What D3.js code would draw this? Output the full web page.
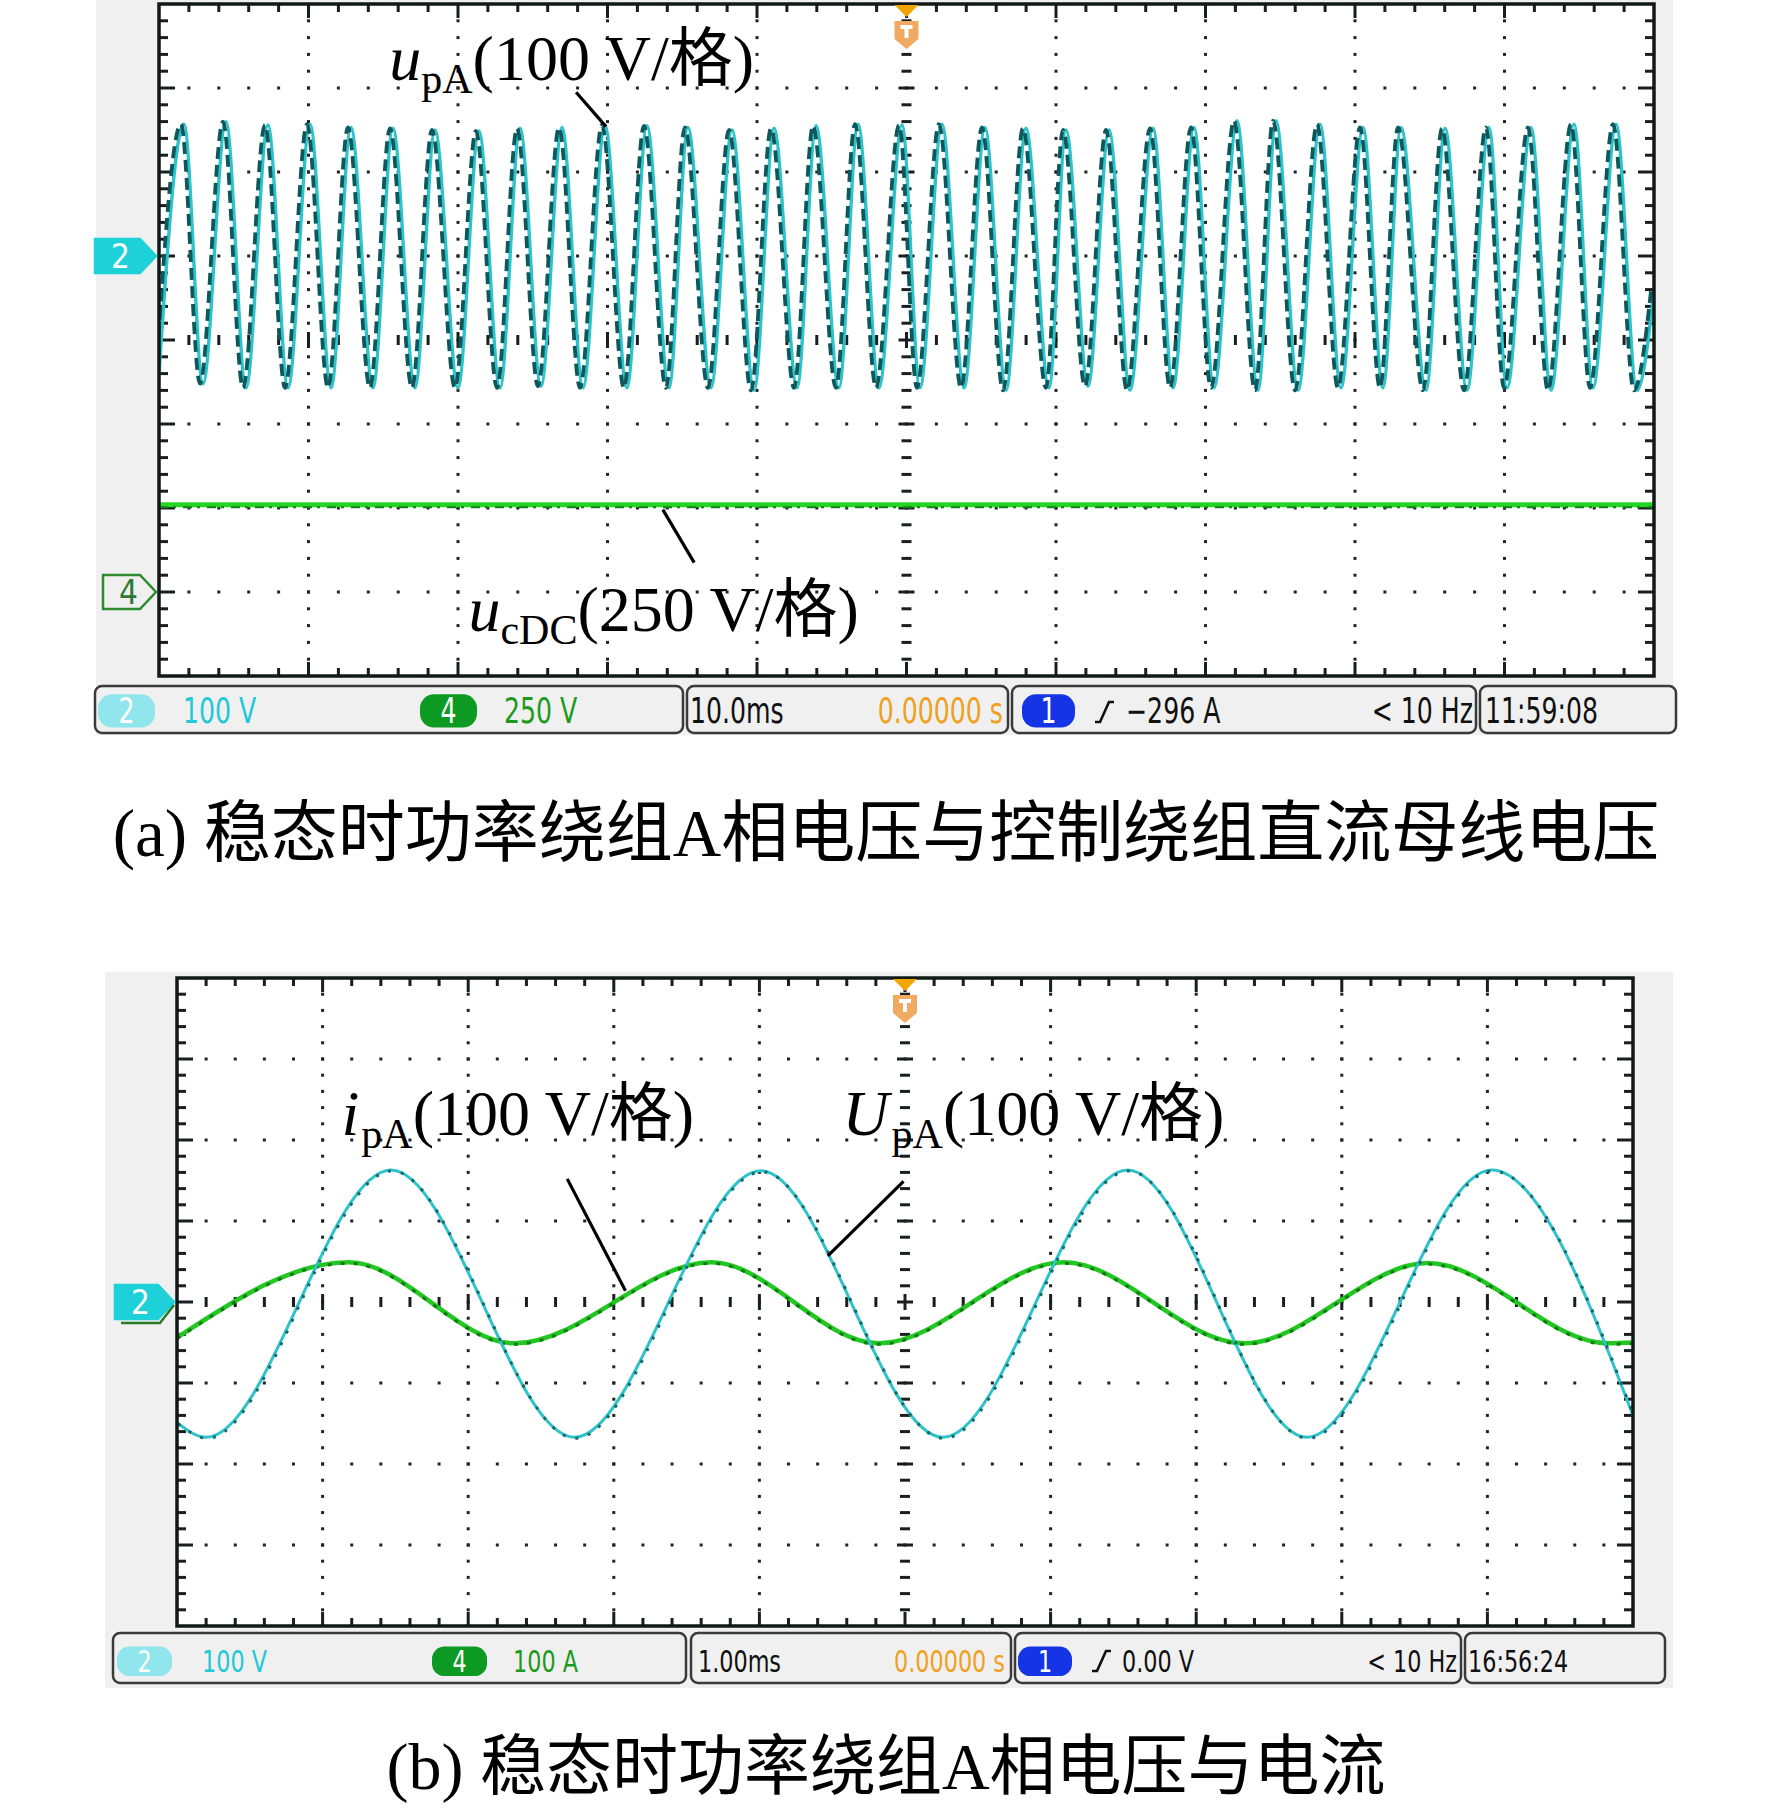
<!DOCTYPE html>
<html lang="zh">
<head>
<meta charset="UTF-8">
<script src="https://cdn.jsdelivr.net/npm/d3@7"></script>
<style>
    body{margin:0;background:#fff;}
    svg text{font-family:"Liberation Serif","Noto Sans CJK SC",serif;}
    svg .bar text{font-family:"DejaVu Sans Condensed","DejaVu Sans",sans-serif;}
</style>
<title>scope</title>
</head>
<body>
<script>
// ---- panel (a): 10 ms/div, ch2 100 V/div, ch4 250 V/div ----
var aPeakT = [1.67,4.48,7.29,10.10,12.84,15.65,18.46,21.40,24.15,26.96,29.83,32.64,35.38,38.33,41.14,43.95,46.76,
              49.70,52.37,55.25,57.99,60.67,63.55,66.49,69.23,72.11,74.72,77.66,80.54,83.08,86.02,88.96,91.77,94.65,97.46];
var aPeakV = [157,160,156,157,153,152,150,149,152,153,156,155,153,150,152,155,157,
              156,157,153,152,150,150,152,153,161,161,157,153,153,152,153,153,157,157];
var aTroughT = [2.94,5.82,8.63,11.51,14.31,17.12,20.00,22.81,25.55,28.36,31.30,34.11,36.92,39.80,42.68,45.48,48.16,
                50.90,53.85,56.66,59.53,62.14,64.95,67.83,70.57,73.51,76.19,79.06,81.87,84.75,87.49,90.17,93.11,95.92,98.86];
var aTroughV = [-152,-157,-157,-157,-157,-157,-157,-157,-155,-157,-157,-157,-157,-160,-157,-157,-157,
                -157,-157,-160,-157,-155,-160,-157,-157,-160,-160,-157,-157,-160,-160,-157,-160,-157,-160];
var aEnds = [-140,-42];
var aDcT = [0,100];
var aDcV = [260,260];

// ---- panel (b): 1 ms/div, ch2 100 V/div, ch4 100 A/div ----
var bUPeakT = [1.47,4.01,6.53,9.03];
var bUPeakV = [163,162,163,163];
var bUTroughT = [0.20,2.73,5.26,7.76];
var bUTroughV = [-167,-167,-167,-167];
var bUEnds = [-149,-140];
var bIPeakT = [1.18,3.67,6.09,8.59];
var bIPeakV = [49,49,49,48];
var bITroughT = [2.32,4.82,7.33,9.83];
var bITroughV = [-51,-51,-51,-51];
var bIEnds = [-44,-50];

function series(pt, pv, tt, tv, ends, tmax){
    var pts = [{t:0, v:ends[0]}, {t:tmax, v:ends[1]}];
    pt.forEach(function(t,i){ pts.push({t:t, v:pv[i]}); });
    tt.forEach(function(t,i){ pts.push({t:t, v:tv[i]}); });
    return pts.sort(function(a,b){ return a.t-b.t; });
}

var svg = d3.select("body").append("svg")
    .attr("width",1772).attr("height",1808);

function scope(cfg){
    var g = svg.append("g");
    var p = cfg.plot;
    g.append("rect").attr("x",cfg.bg[0]).attr("y",cfg.bg[1])
        .attr("width",cfg.bg[2]-cfg.bg[0]).attr("height",cfg.bg[3]-cfg.bg[1])
        .attr("fill","#f0f0f0");
    g.append("rect").attr("x",p.x0).attr("y",p.y0)
        .attr("width",p.x1-p.x0).attr("height",p.y1-p.y0).attr("fill","#fff");

    var gx = d3.scaleLinear().domain([0,10]).range([p.x0,p.x1]);
    var gy = d3.scaleLinear().domain([0,8]).range([p.y0,p.y1]);
    var fx = d3.range(1,50).map(function(d){ return d/5; });
    var fy = d3.range(1,40).map(function(d){ return d/5; });
    var isMaj = function(d){ return Math.abs(d-Math.round(d))<1e-6; };

    // dotted grid
    var dots = [];
    d3.range(1,10).forEach(function(i){ if(i!==5) fy.forEach(function(d){ dots.push([gx(i),gy(d)]); }); });
    d3.range(1,8).forEach(function(j){ if(j!==4) fx.forEach(function(d){ dots.push([gx(d),gy(j)]); }); });
    g.append("g").selectAll("rect").data(dots).enter().append("rect")
        .attr("x",function(d){ return d[0]-1.5; }).attr("y",function(d){ return d[1]-1.5; })
        .attr("width",3).attr("height",3).attr("fill","#222");

    // center cross ticks and border ticks
    var tk = g.append("g").attr("stroke","#1a1e1e").attr("stroke-width",3);
    fy.forEach(function(d){
        var w = isMaj(d)?8:5;
        tk.append("line").attr("x1",gx(5)-w).attr("x2",gx(5)+w).attr("y1",gy(d)).attr("y2",gy(d));
        var L = isMaj(d)?16:9;
        tk.append("line").attr("x1",p.x0).attr("x2",p.x0+L).attr("y1",gy(d)).attr("y2",gy(d));
        tk.append("line").attr("x1",p.x1).attr("x2",p.x1-L).attr("y1",gy(d)).attr("y2",gy(d));
    });
    fx.forEach(function(d){
        var h = isMaj(d)?8:5;
        tk.append("line").attr("y1",gy(4)-h).attr("y2",gy(4)+h).attr("x1",gx(d)).attr("x2",gx(d));
        var L = isMaj(d)?14:8;
        tk.append("line").attr("y1",p.y0).attr("y2",p.y0+L).attr("x1",gx(d)).attr("x2",gx(d));
        tk.append("line").attr("y1",p.y1).attr("y2",p.y1-L).attr("x1",gx(d)).attr("x2",gx(d));
    });

    var x = d3.scaleLinear().domain([0,cfg.tmax]).range([p.x0,p.x1]);
    var chY = function(ground, perDiv){
        return d3.scaleLinear().domain([0,perDiv]).range([gy(ground),gy(ground-1)]);
    };

    var clipId = "clip"+cfg.id;
    g.append("clipPath").attr("id",clipId).append("rect")
        .attr("x",p.x0).attr("y",p.y0).attr("width",p.x1-p.x0).attr("height",p.y1-p.y0);
    var wv = g.append("g").attr("clip-path","url(#"+clipId+")").attr("fill","none");
    cfg.traces.forEach(function(tr){
        var y = chY(tr.ground,tr.perDiv);
        var line = d3.line().x(function(d){ return x(d.t); }).y(function(d){ return y(d.v); })
            .curve(tr.curve||d3.curveMonotoneX);
        wv.append("path").datum(tr.data).attr("d",line)
            .attr("stroke",tr.color).attr("stroke-width",tr.width);
        wv.append("path").datum(tr.data).attr("d",line)
            .attr("transform","translate("+tr.shadeShift[0]+","+tr.shadeShift[1]+")")
            .attr("stroke",tr.shade).attr("stroke-width",tr.shadeWidth)
            .attr("stroke-dasharray",tr.dash);
    });

    g.append("rect").attr("x",p.x0).attr("y",p.y0)
        .attr("width",p.x1-p.x0).attr("height",p.y1-p.y0)
        .attr("fill","none").attr("stroke","#111818").attr("stroke-width",3.5);

    // trigger marker
    var tx = x(cfg.tmax/2), ty = p.y0;
    var tg = g.append("g");
    tg.append("path").attr("d","M"+(tx-12)+","+(ty+1)+"h24l-12,12z").attr("fill","#f2a500");
    tg.append("path").attr("d","M"+(tx-12)+","+(ty+17)+"h24v18l-12,10l-12,-10z").attr("fill","#f0aa62");
    tg.append("rect").attr("x",tx-6).attr("y",ty+21).attr("width",12).attr("height",4).attr("fill","#fff");
    tg.append("rect").attr("x",tx-2).attr("y",ty+21).attr("width",4).attr("height",13).attr("fill","#fff");

    cfg.markers.forEach(function(m){
        var my = gy(m.ground), x1 = p.x0-3, x0 = m.x0;
        var mg = g.append("g");
        mg.append("path")
            .attr("d","M"+x0+","+(my-17)+"H"+(x1-16)+"L"+x1+","+my+"L"+(x1-16)+","+(my+17)+"H"+x0+"Z")
            .attr("fill",m.fill).attr("stroke",m.stroke).attr("stroke-width",2.5);
        mg.append("text").attr("x",x0+16).attr("y",my+12).attr("font-size",33)
            .style("font-family","'DejaVu Sans Condensed',sans-serif")
            .attr("fill",m.textFill).text(m.label);
        if(m.under){
            mg.append("path").attr("d","M"+(x0+6)+","+(my+21)+"H"+(x1-14)+"L"+x1+","+(my+3))
                .attr("fill","none").attr("stroke","#2a7a2a").attr("stroke-width",2.5);
        }
    });

    // status bar
    var b = cfg.bar;
    var bg = g.append("g").attr("class","bar");
    b.segs.forEach(function(s){
        bg.append("rect").attr("x",s[0]).attr("y",b.y0).attr("width",s[1]-s[0]).attr("height",b.y1-b.y0)
            .attr("rx",7).attr("fill","#f0f0f0").attr("stroke","#3a3a3a").attr("stroke-width",2.5);
    });
    b.pills.forEach(function(s){
        bg.append("rect").attr("x",s.x0).attr("y",b.base-b.fs*0.82).attr("width",s.x1-s.x0)
            .attr("height",b.fs*0.95).attr("rx",b.fs*0.4).attr("fill",s.fill);
        bg.append("text").attr("transform","translate("+((s.x0+s.x1)/2)+","+b.base+") scale(0.8,1)")
            .attr("text-anchor","middle")
            .attr("font-size",b.fs).attr("fill","#fff").text(s.label);
    });
    b.texts.forEach(function(s){
        bg.append("text").attr("transform","translate("+s.x+","+b.base+") scale(0.8,1)")
            .attr("text-anchor",s.anchor||"start")
            .attr("font-size",b.fs).attr("fill",s.fill||"#111").text(s.text);
    });
    bg.append("path").attr("d","M"+b.slope+","+(b.base-1)+"h5l9,-20h5")
        .attr("fill","none").attr("stroke","#111").attr("stroke-width",2.6);

    // annotations (in grid divisions)
    cfg.notes.forEach(function(n){
        g.append("line").attr("x1",gx(n.line[0])).attr("y1",gy(n.line[1]))
            .attr("x2",gx(n.line[2])).attr("y2",gy(n.line[3]))
            .attr("stroke","#000").attr("stroke-width",3.2);
        var t = g.append("text").attr("x",gx(n.at[0])).attr("y",gy(n.at[1])).attr("font-size",64).attr("fill","#000");
        t.append("tspan").attr("font-style","italic").text(n.sym);
        t.append("tspan").attr("font-size",42).attr("dx",n.gap).attr("dy",13).text(n.sub);
        t.append("tspan").attr("dy",-13).text("(" + n.unit + ")");
    });
}

scope({
    id:"a", tmax:100,
    bg:[96,0,1673,735],
    plot:{x0:159,x1:1654,y0:4,y1:676},
    traces:[
        {data:aDcT.map(function(t,i){ return {t:t,v:aDcV[i]}; }), ground:7, perDiv:250, curve:d3.curveLinear,
         color:"#22d622", width:5, shade:"#17801a", shadeWidth:2, dash:"9,5,3,7", shadeShift:[0,2.5]},
        {data:series(aPeakT,aPeakV,aTroughT,aTroughV,aEnds,100), ground:3, perDiv:100,
         color:"#2cc3cb", width:3.4, shade:"#0e585c", shadeWidth:3.8, dash:"12,6", shadeShift:[-3,0]}
    ],
    markers:[
        {ground:3, x0:95, fill:"#1ed0d8", stroke:"#1ed0d8", textFill:"#fff", label:"2"},
        {ground:7, x0:103, fill:"#f0f0f0", stroke:"#2e8a2e", textFill:"#2e7a2e", label:"4"}
    ],
    bar:{y0:686, y1:733, base:723, fs:35, slope:1095,
        segs:[[95,683],[687,1008],[1012,1476],[1480,1676]],
        pills:[{x0:98,x1:155,fill:"#90e6ec",label:"2"},{x0:420,x1:477,fill:"#0c9a22",label:"4"},
               {x0:1022,x1:1075,fill:"#1434e6",label:"1"}],
        texts:[{x:183,text:"100 V",fill:"#22c8d6"},{x:504,text:"250 V",fill:"#1c9a1c"},
               {x:690,text:"10.0ms"},{x:1003,text:"0.00000 s",fill:"#f0a020",anchor:"end"},
               {x:1126,text:"\u2212296 A"},{x:1473,text:"< 10 Hz",anchor:"end"},{x:1485,text:"11:59:08"}]},
    notes:[
        {at:[1.54,0.905], sym:"u", sub:"pA", gap:0, unit:"100 V/格", line:[2.79,1.05,2.99,1.46]},
        {at:[2.07,7.46], sym:"u", sub:"cDC", gap:0, unit:"250 V/格", line:[3.37,6.02,3.58,6.65]}
    ]
});

scope({
    id:"b", tmax:10,
    bg:[105,972,1673,1688],
    plot:{x0:177,x1:1633,y0:978,y1:1626},
    traces:[
        {data:series(bIPeakT,bIPeakV,bITroughT,bITroughV,bIEnds,10), ground:4, perDiv:100,
         color:"#22c822", width:4.5, shade:"#137a13", shadeWidth:3, dash:"4,9", shadeShift:[0,1]},
        {data:series(bUPeakT,bUPeakV,bUTroughT,bUTroughV,bUEnds,10), ground:4, perDiv:100,
         color:"#2cc3cb", width:3, shade:"#176a6c", shadeWidth:3, dash:"3,10", shadeShift:[1,1]}
    ],
    markers:[
        {ground:4, x0:115, fill:"#1ed0d8", stroke:"#1ed0d8", textFill:"#fff", label:"2", under:true}
    ],
    bar:{y0:1633, y1:1683, base:1672, fs:31, slope:1092,
        segs:[[113,686],[691,1011],[1015,1461],[1465,1665]],
        pills:[{x0:117,x1:172,fill:"#90e6ec",label:"2"},{x0:432,x1:487,fill:"#0c9a22",label:"4"},
               {x0:1018,x1:1072,fill:"#1434e6",label:"1"}],
        texts:[{x:202,text:"100 V",fill:"#22c8d6"},{x:513,text:"100 A",fill:"#1c9a1c"},
               {x:698,text:"1.00ms"},{x:1005,text:"0.00000 s",fill:"#f0a020",anchor:"end"},
               {x:1122,text:"0.00 V"},{x:1457,text:"< 10 Hz",anchor:"end"},{x:1468,text:"16:56:24"}]},
    notes:[
        {at:[1.13,1.94], sym:"i", sub:"pA", gap:2, unit:"100 V/格", line:[2.68,2.48,3.08,3.86]},
        {at:[4.57,1.94], sym:"U", sub:"pA", gap:3, unit:"100 V/格", line:[4.99,2.51,4.47,3.43]}
    ]
});

// captions
svg.append("text").attr("x",886).attr("y",856).attr("text-anchor","middle")
    .attr("font-size",67).attr("fill","#000")
    .text("(a) 稳态时功率绕组A相电压与控制绕组直流母线电压");
svg.append("text").attr("x",886).attr("y",1789).attr("text-anchor","middle")
    .attr("font-size",66).attr("fill","#000")
    .text("(b) 稳态时功率绕组A相电压与电流");
</script>
</body>
</html>
